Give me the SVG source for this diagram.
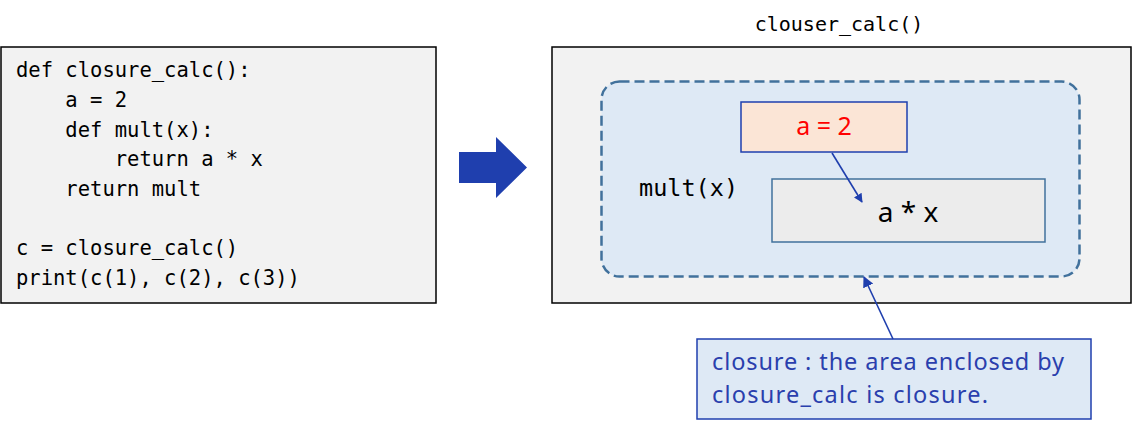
<svg xmlns="http://www.w3.org/2000/svg" width="1133" height="429" viewBox="0 0 1133 429">
<defs>
<style>
.code{font-family:"DejaVu Sans Mono","Liberation Mono",monospace;font-size:20.5px;fill:#000}
.sans{font-family:"Noto Sans","Open Sans",sans-serif}
</style>
<marker id="ah" viewBox="0 0 10 10" refX="9" refY="5" markerWidth="9" markerHeight="9" markerUnits="userSpaceOnUse" orient="auto">
<path d="M0,0 L10,5 L0,10 z" fill="#1f3fae"/>
</marker>
<marker id="ah2" viewBox="0 0 10 10" refX="9" refY="5" markerWidth="11" markerHeight="11" markerUnits="userSpaceOnUse" orient="auto">
<path d="M0,0 L10,5 L0,10 z" fill="#1f3fae"/>
</marker>
</defs>
<rect width="1133" height="429" fill="#fff"/>
<g id="code-box">
<rect x="1" y="47" width="435" height="256" fill="#f2f2f2" stroke="#000" stroke-width="1.5"/>
<text class="code" x="16" y="77">def closure_calc():</text>
<text class="code" x="16" y="107" xml:space="preserve">    a = 2</text>
<text class="code" x="16" y="137" xml:space="preserve">    def mult(x):</text>
<text class="code" x="16" y="166" xml:space="preserve">        return a * x</text>
<text class="code" x="16" y="196" xml:space="preserve">    return mult</text>
<text class="code" x="16" y="255">c = closure_calc()</text>
<text class="code" x="16" y="285">print(c(1), c(2), c(3))</text>
</g>
<g id="big-arrow">
<path d="M459,152 L496,152 L496,137 L527,167.5 L496,198 L496,183 L459,183 z" fill="#1f3fae"/>
</g>
<g id="outer">
<text class="code" x="839" y="31" text-anchor="middle" style="font-size:20px">clouser_calc()</text>
<rect x="552" y="47" width="579" height="256" fill="#f2f2f2" stroke="#000" stroke-width="1.5"/>
</g>
<g id="closure-area">
<rect x="601.5" y="81.5" width="478" height="195" rx="18" fill="#dee9f5" stroke="#41719c" stroke-width="2.5" stroke-dasharray="10,5"/>
<text class="code" x="639" y="196" style="font-size:23.5px">mult(x)</text>
</g>
<g id="a-box">
<rect x="741" y="102" width="166" height="50" fill="#fbe5d6" stroke="#1f3fae" stroke-width="1.5"/>
<text class="sans" x="824" y="135" text-anchor="middle" fill="#ff0000" font-size="25">a = 2</text>
</g>
<g id="expr-box">
<rect x="772" y="179" width="273" height="63" fill="#ececec" stroke="#41719c" stroke-width="1.5"/>
<text class="sans" x="908" y="222" text-anchor="middle" fill="#000" font-size="28">a * x</text>
</g>
<g id="callout">
<rect x="697" y="339" width="394" height="80" fill="#dee9f5" stroke="#1f3fae" stroke-width="1.5"/>
<text class="sans" x="712" y="370" fill="#2a3fad" font-size="23.5" textLength="352" lengthAdjust="spacing">closure : the area enclosed by</text>
<text class="sans" x="712" y="403" fill="#2a3fad" font-size="23.5" textLength="276" lengthAdjust="spacing">closure_calc is closure.</text>
</g>
<g id="connectors">
<line x1="832" y1="153" x2="862" y2="202" stroke="#1f3fae" stroke-width="1.6" marker-end="url(#ah)"/>
<line x1="893" y1="339" x2="864" y2="277" stroke="#1f3fae" stroke-width="1.6" marker-end="url(#ah2)"/>
</g>
</svg>
